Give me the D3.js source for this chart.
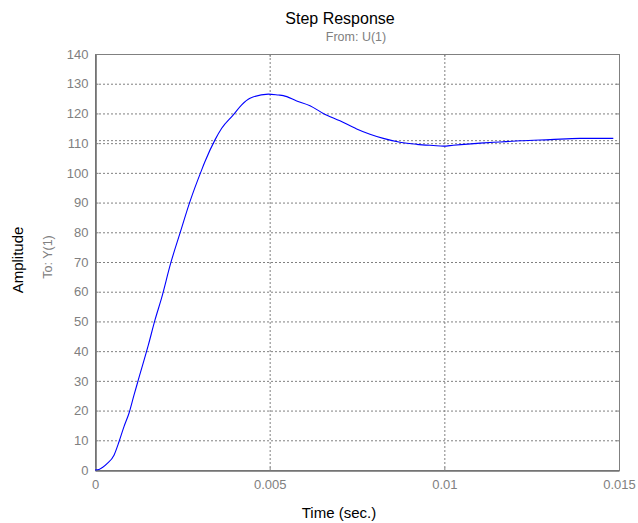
<!DOCTYPE html>
<html>
<head>
<meta charset="utf-8">
<script src="https://cdn.jsdelivr.net/npm/d3@7"></script>
<style>
  body { margin: 0; background: white; }
  svg { display: block; font-family: Arial, "Liberation Sans", sans-serif; }
</style>
</head>
<body>
<svg id="chart"></svg>
<script>
// step response samples, time in ms
const timeMs = [0, 0.115, 0.352, 0.544, 0.687, 0.830, 0.973, 1.116, 1.240, 1.526, 1.718, 1.909,
  2.167, 2.433, 2.720, 3.054, 3.149, 3.435, 3.627, 3.959, 4.199, 4.437, 4.961, 5.247, 5.390,
  5.774, 6.155, 6.535, 7.013, 7.491, 7.872, 8.253, 8.731, 9.209, 9.684, 9.970, 10.257, 11.021,
  11.594, 12.166, 13.030, 13.884, 14.837];
const amplitude = [0, 0.2, 2.2, 5, 9.5, 14.6, 19.1, 25.2, 30.3, 42, 50.5, 58,
  69.6, 79.7, 90.4, 101, 103.8, 111.1, 115, 119.5, 122.9, 125.1, 126.5, 126.2, 126,
  124.2, 122.6, 120, 117.5, 114.8, 113, 111.6, 110.3, 109.6, 109.2, 109.0, 109.3, 110,
  110.4, 110.8, 111.2, 111.6, 111.6];
const steadyState = 111;

const xTicks = [0, 0.005, 0.01, 0.015];
const xTickLabels = ["0", "0.005", "0.01", "0.015"];
const yTicks = d3.range(0, 141, 10);

const w = 638;
const h = 523;
const leftEdge = 95;
const rightEdge = 619;
const topEdge = 54;
const bottomEdge = 470;
const gray = "#808080";

const xScale = d3.scaleLinear().domain([0, 0.015]).range([leftEdge, rightEdge]);
const yScale = d3.scaleLinear().domain([0, 140]).range([bottomEdge, topEdge]);

const svg = d3.select("#chart").attr("width", w).attr("height", h);

// grid
svg.append("g")
   .selectAll("line")
   .data(yTicks.slice(1, -1))
   .enter()
   .append("line")
   .attr("x1", leftEdge).attr("x2", rightEdge)
   .attr("y1", d => yScale(d) + 0.5).attr("y2", d => yScale(d) + 0.5)
   .style("stroke", gray).style("stroke-dasharray", "2,2");

svg.append("g")
   .selectAll("line")
   .data(xTicks.slice(1, -1))
   .enter()
   .append("line")
   .attr("x1", d => xScale(d) + 0.5).attr("x2", d => xScale(d) + 0.5)
   .attr("y1", topEdge).attr("y2", bottomEdge)
   .style("stroke", gray).style("stroke-dasharray", "2,2");

// steady state line
svg.append("line")
   .attr("x1", leftEdge).attr("x2", rightEdge)
   .attr("y1", yScale(steadyState) + 0.5).attr("y2", yScale(steadyState) + 0.5)
   .style("stroke", gray).style("stroke-dasharray", "2,2");

// frame
svg.append("rect")
   .attr("x", leftEdge + 0.5).attr("y", topEdge + 0.5)
   .attr("width", rightEdge - leftEdge).attr("height", bottomEdge - topEdge)
   .style("fill", "none").style("stroke", gray);

// right / top inner ticks
svg.append("g")
   .selectAll("line")
   .data(yTicks)
   .enter()
   .append("line")
   .attr("x1", rightEdge - 3).attr("x2", rightEdge)
   .attr("y1", d => yScale(d) + 0.5).attr("y2", d => yScale(d) + 0.5)
   .style("stroke", gray);

svg.append("g")
   .selectAll("line")
   .data(xTicks)
   .enter()
   .append("line")
   .attr("x1", d => xScale(d) + 0.5).attr("x2", d => xScale(d) + 0.5)
   .attr("y1", topEdge).attr("y2", topEdge + 3)
   .style("stroke", gray);

// axes
const yAxis = d3.axisLeft(yScale).tickValues(yTicks).tickSizeInner(-3).tickSizeOuter(0).tickPadding(7);
const xAxis = d3.axisBottom(xScale).tickValues(xTicks)
   .tickFormat((d, i) => xTickLabels[i]).tickSizeInner(-3).tickSizeOuter(0).tickPadding(9);

const gy = svg.append("g").attr("transform", `translate(${leftEdge + 0.5}, 0)`).call(yAxis);
const gx = svg.append("g").attr("transform", `translate(0, ${bottomEdge + 0.5})`).call(xAxis);

[gx, gy].forEach(g => {
  g.select(".domain").style("stroke", "#707070").style("stroke-width", 1.6);
  g.selectAll(".tick line").style("stroke", gray);
  g.selectAll(".tick text")
   .style("fill", gray)
   .style("font-size", "13px")
   .style("font-family", "Arial, 'Liberation Sans', sans-serif");
});

// response curve
const line = d3.line()
   .x((d, i) => xScale(timeMs[i] / 1000))
   .y(d => yScale(d))
   .curve(d3.curveMonotoneX);

svg.append("path")
   .datum(amplitude)
   .attr("d", line)
   .style("fill", "none")
   .style("stroke", "#0000ff")
   .style("stroke-width", 1.1);

// titles
svg.append("text")
   .attr("x", 340).attr("y", 24)
   .attr("text-anchor", "middle")
   .style("font-size", "16px")
   .text("Step Response");

svg.append("text")
   .attr("x", 356).attr("y", 41)
   .attr("text-anchor", "middle")
   .style("font-size", "12.5px")
   .style("fill", gray)
   .text("From: U(1)");

svg.append("text")
   .attr("transform", `translate(23, 260) rotate(-90)`)
   .attr("text-anchor", "middle")
   .style("font-size", "15px")
   .text("Amplitude");

svg.append("text")
   .attr("transform", `translate(52, 257) rotate(-90)`)
   .attr("text-anchor", "middle")
   .style("font-size", "12.5px")
   .style("fill", gray)
   .text("To: Y(1)");

svg.append("text")
   .attr("x", 339).attr("y", 518)
   .attr("text-anchor", "middle")
   .style("font-size", "15px")
   .text("Time (sec.)");
</script>
</body>
</html>
